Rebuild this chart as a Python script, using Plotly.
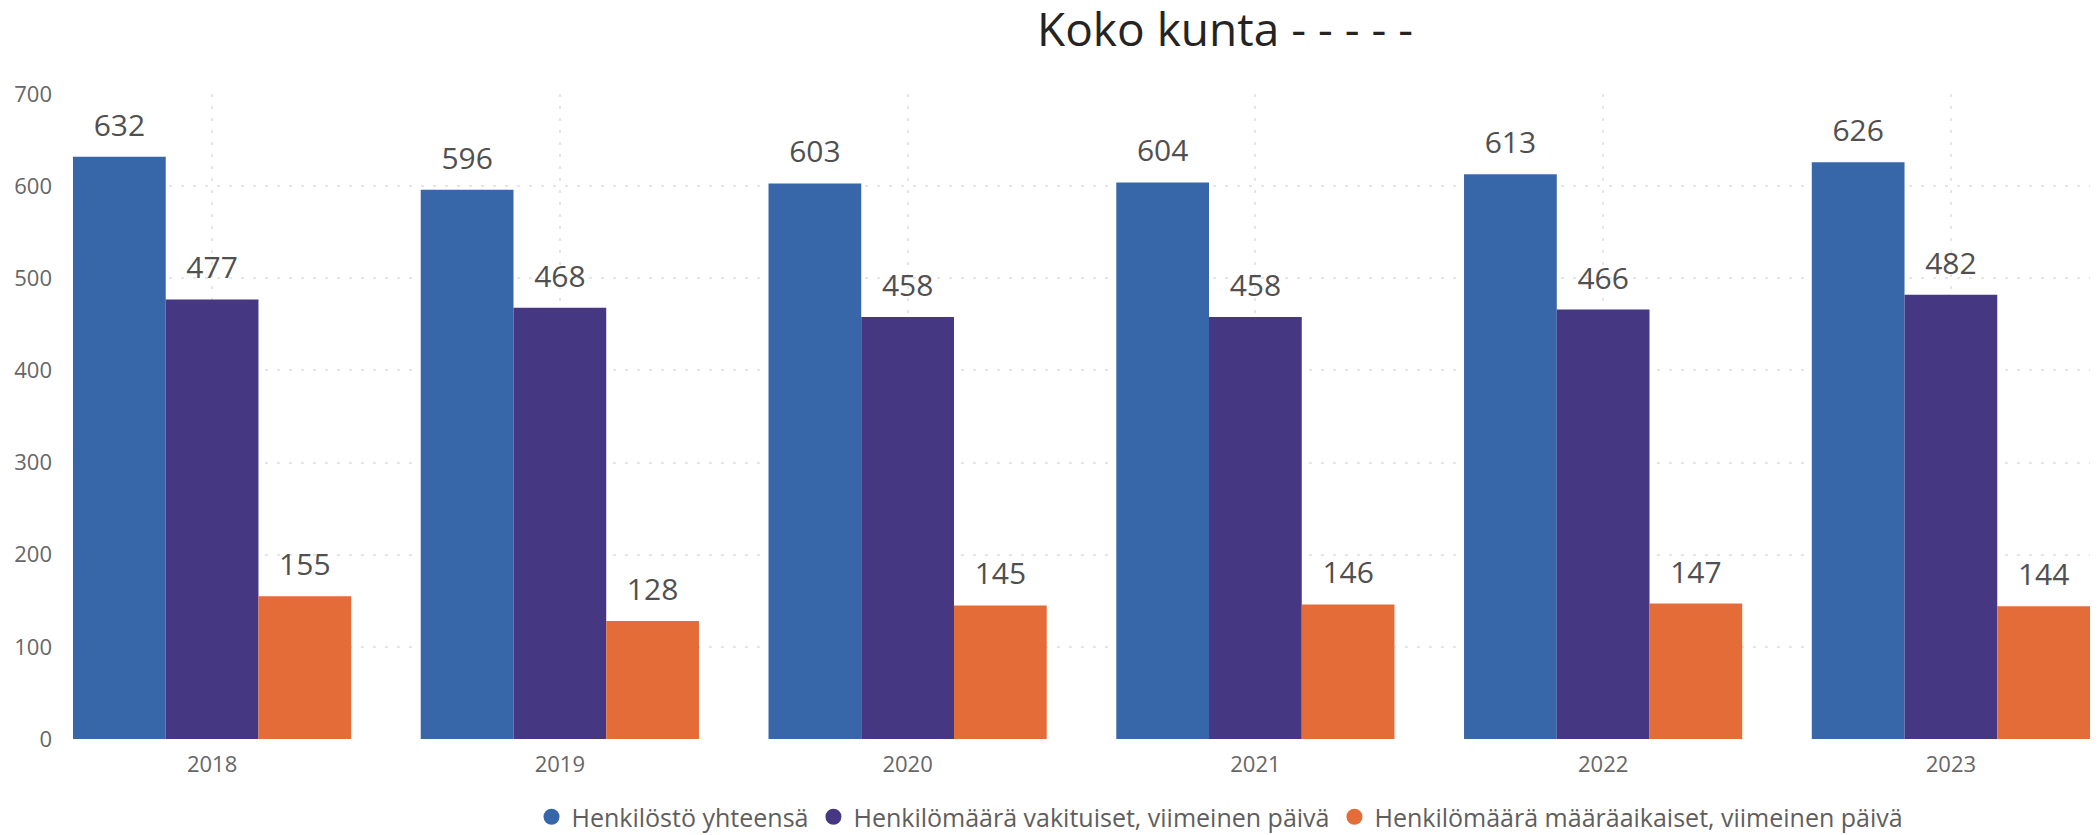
import plotly.graph_objects as go

years = ["2018", "2019", "2020", "2021", "2022", "2023"]
henkilosto_yhteensa = [632, 596, 603, 604, 613, 626]
vakituiset = [477, 468, 458, 458, 466, 482]
maaraaikaiset = [155, 128, 145, 146, 147, 144]

series = [
    ("Henkilöstö yhteensä", henkilosto_yhteensa, "#3767A9"),
    ("Henkilömäärä vakituiset, viimeinen päivä", vakituiset, "#453782"),
    ("Henkilömäärä määräaikaiset, viimeinen päivä", maaraaikaiset, "#E46C38"),
]

FONT = "Open Sans, Segoe UI, Noto Sans, sans-serif"

# the page body has an 8px default margin, so the figure is made 8px smaller
W, H = 2092, 827

fig = go.Figure()

# bars
for name, values, color in series:
    fig.add_trace(go.Bar(
        x=years,
        y=values,
        name=name,
        marker=dict(color=color, line=dict(width=0)),
        showlegend=False,
        offsetgroup=name,
    ))

# data labels, lifted above the bars by an invisible marker
for name, values, color in series:
    fig.add_trace(go.Scatter(
        x=years,
        y=values,
        mode="markers+text",
        text=[str(v) for v in values],
        textposition="top center",
        textfont=dict(family=FONT, size=30, color="#505050"),
        marker=dict(size=20, opacity=0, color=color),
        showlegend=False,
        hoverinfo="skip",
        offsetgroup=name,
        cliponaxis=False,
    ))

# round legend markers
for name, values, color in series:
    fig.add_trace(go.Scatter(
        x=[None],
        y=[None],
        mode="markers",
        name=name,
        marker=dict(symbol="circle", size=16, color=color),
        offsetgroup=name,
    ))

fig.update_layout(
    width=W,
    height=H,
    paper_bgcolor="white",
    plot_bgcolor="white",
    barmode="group",
    bargap=0.2,
    bargroupgap=0,
    scattermode="group",
    scattergap=0.2,
    margin=dict(l=65, r=10, t=86, b=96),
    font=dict(family=FONT, color="#666666"),
    title=dict(
        text="Koko kunta - - - - -",
        font=dict(family=FONT, size=46, color="#252423"),
        x=1217 / W,
        xanchor="center",
        xref="container",
        y=1 - 22 / H,
        yanchor="middle",
        yref="container",
    ),
    legend=dict(
        orientation="h",
        x=1212 / W,
        xanchor="center",
        xref="container",
        y=1 - 809 / H,
        yanchor="middle",
        yref="container",
        font=dict(family=FONT, size=25, color="#605E5C"),
    ),
)

fig.update_xaxes(
    type="category",
    range=[-0.4, 5.4],
    showgrid=True,
    gridcolor="#e6e6e6",
    gridwidth=2,
    griddash="3px,9px",
    showline=False,
    zeroline=False,
    ticks="",
    automargin=False,
    ticklabelstandoff=10,
    tickfont=dict(family=FONT, size=22, color="#666666"),
)
fig.update_yaxes(
    range=[0, 700],
    dtick=100,
    showgrid=True,
    gridcolor="#e6e6e6",
    gridwidth=2,
    griddash="3px,9px",
    showline=False,
    zeroline=False,
    ticks="",
    automargin=False,
    ticklabelstandoff=20,
    tickfont=dict(family=FONT, size=22, color="#666666"),
)

fig.write_html("out.html")
